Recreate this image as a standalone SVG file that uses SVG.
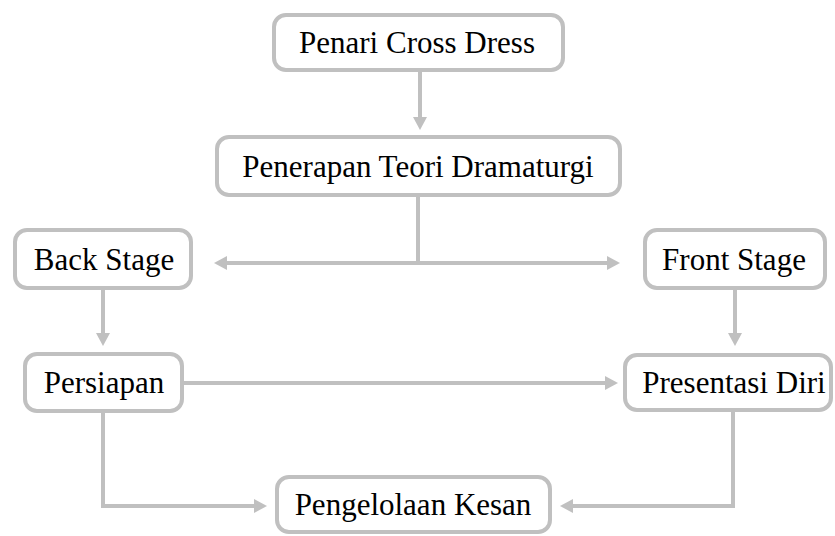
<svg xmlns="http://www.w3.org/2000/svg" width="835" height="536" viewBox="0 0 835 536">
<defs>
<style>
.box{fill:#ffffff;stroke:#c0c0c0;stroke-width:4}
.lbl{font-family:"Liberation Serif","Times New Roman",serif;font-size:31px;fill:#000000;text-anchor:middle}
.con{fill:none;stroke:#c0c0c0;stroke-width:4}
</style>
<marker id="ah" markerWidth="14" markerHeight="14" refX="3" refY="7" orient="auto-start-reverse" markerUnits="userSpaceOnUse">
<path d="M0,0 L13,7 L0,14 z" fill="#c0c0c0"/>
</marker>
</defs>
<rect width="835" height="536" fill="#ffffff"/>
<g id="connectors">
<line class="con" x1="420" y1="72" x2="420" y2="120" marker-end="url(#ah)"/>
<line class="con" x1="418" y1="197" x2="418" y2="263"/>
<line class="con" x1="224" y1="263" x2="610" y2="263" marker-start="url(#ah)" marker-end="url(#ah)"/>
<line class="con" x1="103" y1="290" x2="103" y2="336" marker-end="url(#ah)"/>
<line class="con" x1="735" y1="290" x2="735" y2="336" marker-end="url(#ah)"/>
<line class="con" x1="184" y1="383" x2="608" y2="383" marker-end="url(#ah)"/>
<path class="con" d="M103,413 V506 H257" marker-end="url(#ah)"/>
<path class="con" d="M733,412 V506 H570" marker-end="url(#ah)"/>
</g>
<g id="n1">
<rect class="box" x="274" y="15" width="289" height="55" rx="12"/>
<text class="lbl" x="417" y="53">Penari Cross Dress</text>
</g>
<g id="n2">
<rect class="box" x="217" y="137" width="403" height="58" rx="12"/>
<text class="lbl" x="418" y="177">Penerapan Teori Dramaturgi</text>
</g>
<g id="n3">
<rect class="box" x="15" y="230" width="176" height="58" rx="12"/>
<text class="lbl" x="104" y="270">Back Stage</text>
</g>
<g id="n4">
<rect class="box" x="645" y="230" width="180" height="58" rx="12"/>
<text class="lbl" x="734" y="270">Front Stage</text>
</g>
<g id="n5">
<rect class="box" x="25" y="354" width="157" height="57" rx="12"/>
<text class="lbl" x="104" y="393">Persiapan</text>
</g>
<g id="n6">
<rect class="box" x="625" y="355" width="206" height="55" rx="12"/>
<text class="lbl" x="734" y="393">Presentasi Diri</text>
</g>
<g id="n7">
<rect class="box" x="277" y="477" width="273" height="55" rx="12"/>
<text class="lbl" x="413" y="515">Pengelolaan Kesan</text>
</g>
</svg>
